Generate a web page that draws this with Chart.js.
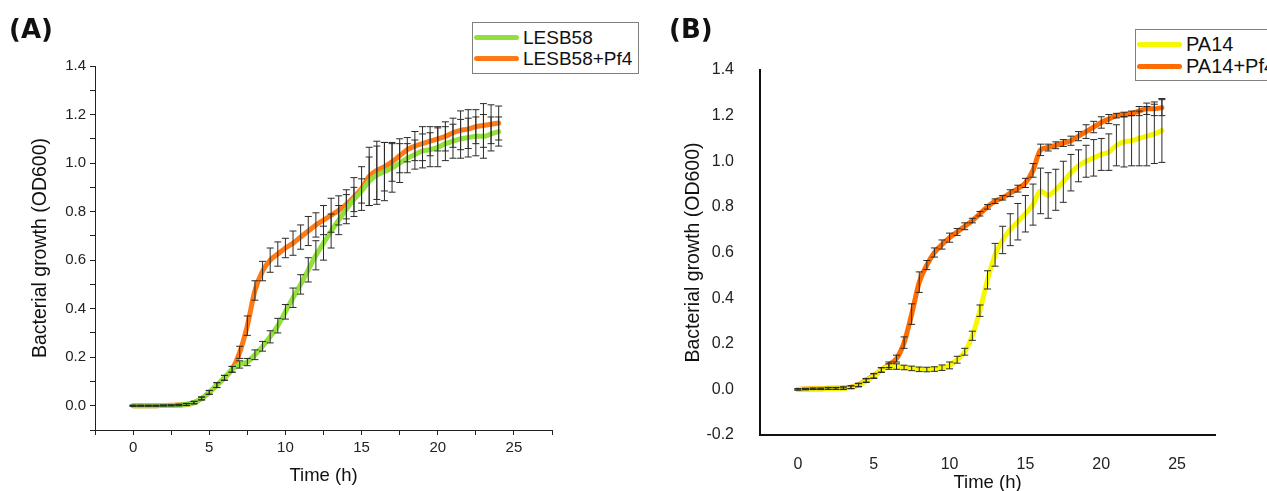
<!DOCTYPE html>
<html>
<head>
<meta charset="utf-8">
<script src="https://cdn.jsdelivr.net/npm/chart.js@4.4.1/dist/chart.umd.min.js"></script>
<style>
    html, body { margin: 0; padding: 0; background: #fff; width: 1267px; height: 491px; overflow: hidden; }
    .panel { position: absolute; top: 0; height: 491px; }
    .tag { position: absolute; font-family: "DejaVu Sans", sans-serif; font-weight: 700; font-size: 26px; color: #111; }
    .legend { position: absolute; border: 1px solid #808080; background: #fff; font-family: "Liberation Sans", Arial, sans-serif;
              color: #111; white-space: nowrap; }
    .legend .row { display: flex; align-items: center; }
    .legend .swatch { display: inline-block; width: 45px; height: 5px; border-radius: 3px; margin-right: 4px; }
</style>
</head>
<body>
<div class="panel" style="left:0;width:640px"><canvas id="chartA"></canvas></div>
<div class="panel" style="left:640px;width:627px"><canvas id="chartB"></canvas></div>
<div class="tag" style="left:9px;top:14px">(A)</div>
<div class="tag" style="left:669px;top:14px">(B)</div>
<div class="legend" id="legendA" style="left:472px;top:22px;padding:4px 6px 4px 1px;font-size:19px"></div>
<div class="legend" id="legendB" style="left:1135px;top:29px;padding:3px 8px 3px 1px;font-size:20px"></div>

<script>
// ---- data (time points every 0.5 h) ----
const timeH = [0, 0.5, 1, 1.5, 2, 2.5, 3, 3.5, 4, 4.5, 5, 5.5, 6, 6.5, 7, 7.5, 8, 8.5, 9, 9.5,
               10, 10.5, 11, 11.5, 12, 12.5, 13, 13.5, 14, 14.5, 15, 15.5, 16, 16.5, 17, 17.5, 18, 18.5, 19, 19.5,
               20, 20.5, 21, 21.5, 22, 22.5, 23, 23.5, 24];

// panel A
const lesb58 = [0, 0, 0, 0, 0.001, 0.001, 0.003, 0.006, 0.013, 0.03, 0.055, 0.085, 0.115, 0.15,
                0.17, 0.18, 0.21, 0.245, 0.284, 0.33, 0.387, 0.445, 0.50, 0.56,
                0.62, 0.67, 0.72, 0.765, 0.81, 0.85, 0.885, 0.925, 0.95, 0.965,
                0.98, 1.0, 1.02, 1.035, 1.05, 1.055, 1.065, 1.08, 1.09, 1.1,
                1.105, 1.11, 1.11, 1.12, 1.13];
const lesb58Err = [0.002, 0.002, 0.002, 0.002, 0.002, 0.002, 0.003, 0.004, 0.005, 0.006, 0.008, 0.01, 0.01, 0.012,
                   0.015, 0.015, 0.02, 0.02, 0.025, 0.03, 0.03, 0.04, 0.04, 0.05,
                   0.06, 0.07, 0.07, 0.06, 0.06, 0.05, 0.05, 0.1, 0.12, 0.12,
                   0.1, 0.08, 0.06, 0.06, 0.07, 0.07, 0.08, 0.07, 0.07, 0.08,
                   0.08, 0.08, 0.09, 0.07, 0.06];
const lesb58Pf4 = [0, 0, 0, 0, 0.001, 0.002, 0.003, 0.005, 0.013, 0.03, 0.055, 0.085, 0.115, 0.15,
                   0.22, 0.33, 0.475, 0.555, 0.60, 0.625, 0.65, 0.67, 0.695, 0.72,
                   0.745, 0.765, 0.785, 0.805, 0.83, 0.86, 0.895, 0.945, 0.97, 0.985,
                   1.005, 1.03, 1.055, 1.07, 1.08, 1.09, 1.1, 1.11, 1.125, 1.135,
                   1.14, 1.15, 1.155, 1.16, 1.165];
const lesb58Pf4Err = [0.002, 0.002, 0.002, 0.002, 0.002, 0.002, 0.003, 0.004, 0.005, 0.006, 0.008, 0.01, 0.01, 0.012,
                      0.025, 0.04, 0.04, 0.04, 0.05, 0.05, 0.04, 0.05, 0.05, 0.06,
                      0.05, 0.06, 0.07, 0.06, 0.06, 0.08, 0.09, 0.12, 0.12, 0.1,
                      0.08, 0.07, 0.05, 0.06, 0.07, 0.06, 0.05, 0.06, 0.06, 0.08,
                      0.08, 0.07, 0.09, 0.08, 0.07];

// panel B
const pa14 = [0, 0.001, 0.002, 0.002, 0.004, 0.004, 0.005, 0.009, 0.018, 0.038, 0.058, 0.085, 0.1, 0.1,
              0.096, 0.092, 0.088, 0.087, 0.089, 0.095, 0.105, 0.13, 0.165, 0.235,
              0.345, 0.48, 0.59, 0.655, 0.70, 0.735, 0.77, 0.81, 0.87, 0.85,
              0.875, 0.91, 0.95, 0.98, 1.0, 1.015, 1.03, 1.04, 1.07, 1.085,
              1.09, 1.1, 1.11, 1.12, 1.135];
const pa14Err = [0.003, 0.003, 0.003, 0.003, 0.004, 0.004, 0.005, 0.006, 0.007, 0.008, 0.01, 0.01, 0.012, 0.012,
                 0.01, 0.01, 0.01, 0.01, 0.01, 0.012, 0.015, 0.015, 0.015, 0.02,
                 0.025, 0.04, 0.05, 0.06, 0.07, 0.08, 0.08, 0.09, 0.1, 0.1,
                 0.09, 0.09, 0.08, 0.07, 0.07, 0.08, 0.07, 0.08, 0.09, 0.11,
                 0.11, 0.12, 0.13, 0.13, 0.14];
const pa14Pf4 = [0, 0.002, 0.003, 0.003, 0.005, 0.005, 0.006, 0.01, 0.02, 0.04, 0.06, 0.085, 0.108, 0.135,
                 0.205, 0.33, 0.47, 0.545, 0.60, 0.635, 0.665, 0.69, 0.715, 0.74,
                 0.77, 0.8, 0.825, 0.84, 0.86, 0.88, 0.905, 0.96, 1.05, 1.06,
                 1.07, 1.08, 1.09, 1.11, 1.13, 1.15, 1.17, 1.185, 1.2, 1.205,
                 1.21, 1.22, 1.23, 1.23, 1.235];
const pa14Pf4Err = [0.003, 0.003, 0.003, 0.003, 0.004, 0.004, 0.005, 0.006, 0.007, 0.008, 0.01, 0.01, 0.012, 0.015,
                    0.025, 0.045, 0.045, 0.02, 0.02, 0.02, 0.02, 0.015, 0.015, 0.01,
                    0.01, 0.01, 0.01, 0.01, 0.015, 0.015, 0.02, 0.03, 0.025, 0.015,
                    0.015, 0.015, 0.02, 0.02, 0.03, 0.025, 0.025, 0.02, 0.01, 0.01,
                    0.01, 0.02, 0.025, 0.03, 0.035];

const xTicks = [0, 5, 10, 15, 20, 25];

Chart.defaults.font.family = '"Liberation Sans", Arial, sans-serif';
Chart.defaults.color = '#222';

// error bars drawn on top of the lines, from the chart's own y scale
const errorBars = {
    id: 'errorBars',
    afterDatasetsDraw(chart, args, opts) {
        const ctx = chart.ctx;
        const yScale = chart.scales.y;
        ctx.save();
        ctx.strokeStyle = '#2a2a2a';
        ctx.lineWidth = 1;
        chart.data.datasets.forEach((ds, di) => {
            const errs = opts.errors[di];
            chart.getDatasetMeta(di).data.forEach((pt, i) => {
                const v = ds.data[i].y;
                const top = yScale.getPixelForValue(v + errs[i]);
                const bot = yScale.getPixelForValue(v - errs[i]);
                ctx.beginPath();
                ctx.moveTo(pt.x, top); ctx.lineTo(pt.x, bot);
                ctx.moveTo(pt.x - 3.5, top); ctx.lineTo(pt.x + 3.5, top);
                ctx.moveTo(pt.x - 3.5, bot); ctx.lineTo(pt.x + 3.5, bot);
                ctx.stroke();
            });
        });
        ctx.restore();
    }
};

function series(label, values, color) {
    return {
        label: label,
        data: timeH.map((t, i) => ({ x: t, y: values[i] })),
        borderColor: color,
        backgroundColor: color,
        borderWidth: 5,
        pointRadius: 0,
        tension: 0.4,
        cubicInterpolationMode: 'monotone',
        borderCapStyle: 'round',
        borderJoinStyle: 'round'
    };
}

// "0.0" and not "-0.0" for the float that lands near zero
const fmt1 = v => (Math.abs(v) < 1e-9 ? 0 : v).toFixed(1);

function buildLegend(chart, el) {
    el.innerHTML = chart.data.datasets.map(ds =>
        '<div class="row" style="height:' + el.dataset.row + 'px"><span class="swatch" style="background:' +
        ds.borderColor + '"></span>' + ds.label + '</div>').join('');
}

// ==========================================
// (A) LESB58
// ==========================================
const chartA = new Chart(document.getElementById('chartA'), {
    type: 'line',
    data: {
        datasets: [
            series('LESB58', lesb58, '#93e03c'),
            series('LESB58+Pf4', lesb58Pf4, '#ff7a14')
        ]
    },
    plugins: [errorBars],
    options: {
        responsive: true,
        maintainAspectRatio: false,
        animation: false,
        layout: { padding: { top: 66, right: 88, left: 0, bottom: 0 } },
        plugins: {
            legend: { display: false },
            tooltip: { enabled: false },
            errorBars: { errors: [lesb58Err, lesb58Pf4Err] }
        },
        scales: {
            x: {
                type: 'linear', min: -2.5, max: 27.5,
                afterFit: s => { s.height = 61; },
                border: { display: true, color: '#222', width: 1 },
                grid: { drawOnChartArea: false, tickLength: 5, color: '#222' },
                ticks: {
                    stepSize: 2.5, autoSkip: false, maxRotation: 0, padding: 4,
                    font: { size: 15 }, color: '#222',
                    callback: v => xTicks.includes(v) ? String(v) : ''
                },
                title: { display: true, text: 'Time (h)', font: { size: 18.5 }, color: '#111', padding: { top: 0, bottom: 4 } }
            },
            y: {
                min: -0.1, max: 1.4,
                afterFit: s => { s.width = 95; },
                border: { display: true, color: '#222', width: 1 },
                grid: { drawOnChartArea: false, tickLength: 5, color: '#222' },
                ticks: {
                    stepSize: 0.1, autoSkip: false, padding: 4,
                    font: { size: 15 }, color: '#222',
                    callback: v => Math.round(v * 10) % 2 === 0 ? fmt1(v) : ''
                },
                title: { display: true, text: 'Bacterial growth (OD600)', font: { size: 19.5 }, color: '#111', padding: { top: 29, bottom: 0 } }
            }
        }
    }
});

// ==========================================
// (B) PA14
// ==========================================
const chartB = new Chart(document.getElementById('chartB'), {
    type: 'line',
    data: {
        datasets: [
            series('PA14', pa14, '#f7f700'),
            series('PA14+Pf4', pa14Pf4, '#ff6c00')
        ]
    },
    plugins: [errorBars],
    options: {
        responsive: true,
        maintainAspectRatio: false,
        animation: false,
        layout: { padding: { top: 70, right: 52, left: 0, bottom: 0 } },
        plugins: {
            legend: { display: false },
            tooltip: { enabled: false },
            errorBars: { errors: [pa14Err, pa14Pf4Err] }
        },
        scales: {
            x: {
                type: 'linear', min: -2.5, max: 27.5,
                afterFit: s => { s.height = 56; },
                border: { display: true, color: '#111', width: 2 },
                grid: { display: false },
                ticks: {
                    stepSize: 2.5, autoSkip: false, maxRotation: 0, padding: 12,
                    font: { size: 16 }, color: '#222',
                    callback: v => xTicks.includes(v) ? String(v) : ''
                },
                title: { display: true, text: 'Time (h)', font: { size: 18.5, lineHeight: 1.0 }, color: '#111', padding: { top: 0, bottom: -1 } }
            },
            y: {
                min: -0.2, max: 1.4,
                afterFit: s => { s.width = 120; },
                border: { display: true, color: '#111', width: 2 },
                grid: { display: false },
                ticks: {
                    stepSize: 0.2, autoSkip: false, padding: 18,
                    font: { size: 16 }, color: '#222',
                    callback: v => fmt1(v)
                },
                title: { display: true, text: 'Bacterial growth (OD600)', font: { size: 19.5 }, color: '#111', padding: { top: 42, bottom: 0 } }
            }
        }
    }
});

const legA = document.getElementById('legendA');
legA.dataset.row = 21;
buildLegend(chartA, legA);
const legB = document.getElementById('legendB');
legB.dataset.row = 22;
buildLegend(chartB, legB);
</script>
</body>
</html>
